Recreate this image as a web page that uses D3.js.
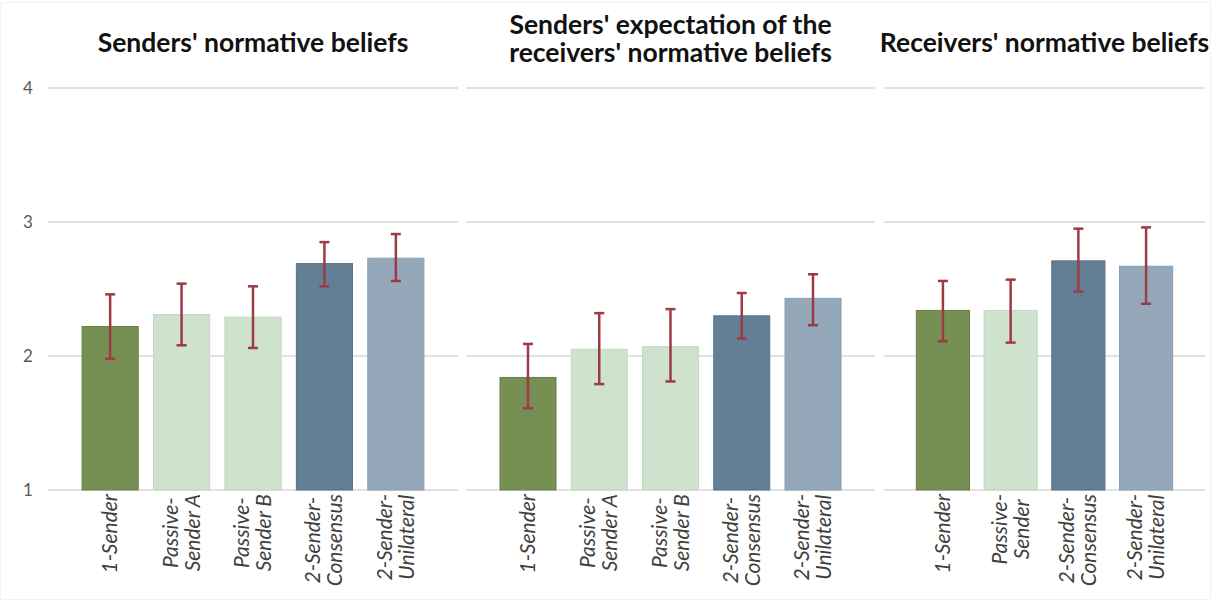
<!DOCTYPE html>
<html>
<head>
<meta charset="utf-8">
<script src="https://cdn.jsdelivr.net/npm/d3@7"></script>
<style>
  html, body { margin: 0; padding: 0; background: #fff; }
  svg { display: block; }
</style>
</head>
<body>
<svg id="chart" width="1222" height="601"></svg>
<script>
// Panel titles (one array entry per line)
const panelTitles = [
  ["Senders' normative beliefs"],
  ["Senders' expectation of the", "receivers' normative beliefs"],
  ["Receivers' normative beliefs"]
];

// Treatment categories per panel (label lines split at the hyphen)
const senderCategories = ["1-Sender", "Passive-Sender A", "Passive-Sender B", "2-Sender-Consensus", "2-Sender-Unilateral"];
const receiverCategories = ["1-Sender", "Passive-Sender", "2-Sender-Consensus", "2-Sender-Unilateral"];

// Means
const sendersBeliefs      = [2.22, 2.31, 2.29, 2.69, 2.73];
const sendersExpectation  = [1.84, 2.05, 2.07, 2.30, 2.43];
const receiversBeliefs    = [2.34, 2.34, 2.71, 2.67];

// Error bar bounds
const sendersBeliefsLow      = [1.98, 2.08, 2.06, 2.52, 2.56];
const sendersBeliefsHigh     = [2.46, 2.54, 2.52, 2.85, 2.91];
const sendersExpectationLow  = [1.61, 1.79, 1.81, 2.13, 2.23];
const sendersExpectationHigh = [2.09, 2.32, 2.35, 2.47, 2.61];
const receiversBeliefsLow    = [2.11, 2.10, 2.48, 2.39];
const receiversBeliefsHigh   = [2.56, 2.57, 2.95, 2.96];

// Y axis ticks
const yTicks = [1, 2, 3, 4];

// Colour per category type
const categoryColors = {
  "1-Sender":            { fill: "#768f52", stroke: "#687f47" },
  "Passive-Sender A":    { fill: "#cee2cd", stroke: "#c3d8c2" },
  "Passive-Sender B":    { fill: "#cee2cd", stroke: "#c3d8c2" },
  "Passive-Sender":      { fill: "#cee2cd", stroke: "#c3d8c2" },
  "2-Sender-Consensus":  { fill: "#637f94", stroke: "#57728a" },
  "2-Sender-Unilateral": { fill: "#95a8b9", stroke: "#8a9eb0" }
};

const panels = [
  { title: panelTitles[0], cats: senderCategories,   mean: sendersBeliefs,     lo: sendersBeliefsLow,     hi: sendersBeliefsHigh,     x0: 48,  x1: 458 },
  { title: panelTitles[1], cats: senderCategories,   mean: sendersExpectation, lo: sendersExpectationLow, hi: sendersExpectationHigh, x0: 466, x1: 875 },
  { title: panelTitles[2], cats: receiverCategories, mean: receiversBeliefs,   lo: receiversBeliefsLow,   hi: receiversBeliefsHigh,   x0: 884, x1: 1205 }
];

const svg = d3.select("#chart");
const font = "Lato, 'Open Sans', sans-serif";

// faint outer frame
svg.append("rect")
  .attr("x", 0.5).attr("y", 2.5).attr("width", 1210).attr("height", 597)
  .attr("fill", "#fff").attr("stroke", "#f2f2f2");

const y = d3.scaleLinear().domain([1, 4]).range([490, 88]);

// Y tick labels (shared on the left)
svg.append("g").selectAll("text")
  .data(yTicks).join("text")
  .attr("x", 28).attr("y", d => y(d))
  .attr("dy", "0.35em")
  .attr("text-anchor", "middle")
  .attr("font-family", font).attr("font-size", 17)
  .attr("fill", "#595959")
  .text(d => d);

// split a category into label lines after its first hyphen-word
function labelLines(c) {
  if (c === "1-Sender") return [c];
  const i = c.indexOf("-", c.startsWith("2-") ? 2 : 0);
  return [c.slice(0, i + 1), c.slice(i + 1)];
}

panels.forEach(p => {
  const g = svg.append("g");
  const x = d3.scaleBand().domain(p.cats).range([p.x0, p.x1])
    .paddingInner(0.2).paddingOuter(0.47);

  // gridlines
  g.append("g").selectAll("line")
    .data(yTicks).join("line")
    .attr("x1", p.x0).attr("x2", p.x1)
    .attr("y1", d => y(d)).attr("y2", d => y(d))
    .attr("stroke", "#d9d9d9").attr("stroke-width", 1.5);

  // title
  const nLines = p.title.length;
  const t = g.append("text")
    .attr("x", (p.x0 + p.x1) / 2)
    .attr("y", nLines === 1 ? 52 : 34)
    .attr("text-anchor", "middle")
    .attr("font-family", font).attr("font-weight", "bold")
    .attr("font-size", 26.5).attr("fill", "#111");
  p.title.forEach((line, i) => {
    t.append("tspan").attr("x", (p.x0 + p.x1) / 2).attr("dy", i === 0 ? 0 : 28).text(line);
  });

  const rows = p.cats.map((c, i) => ({ c, v: p.mean[i], lo: p.lo[i], hi: p.hi[i] }));

  // bars
  g.append("g").selectAll("rect")
    .data(rows).join("rect")
    .attr("x", d => x(d.c) + 0.5)
    .attr("y", d => y(d.v))
    .attr("width", x.bandwidth() - 1)
    .attr("height", d => y(1) - y(d.v))
    .attr("fill", d => categoryColors[d.c].fill)
    .attr("stroke", d => categoryColors[d.c].stroke)
    .attr("stroke-width", 1);

  // error bars
  const eb = g.append("g").attr("stroke", "#9c3a46").attr("stroke-width", 2.5).attr("fill", "none");
  rows.forEach(d => {
    const cx = x(d.c) + x.bandwidth() / 2;
    eb.append("line").attr("x1", cx).attr("x2", cx).attr("y1", y(d.lo)).attr("y2", y(d.hi));
    eb.append("line").attr("x1", cx - 5).attr("x2", cx + 5).attr("y1", y(d.lo)).attr("y2", y(d.lo));
    eb.append("line").attr("x1", cx - 5).attr("x2", cx + 5).attr("y1", y(d.hi)).attr("y2", y(d.hi));
  });

  // rotated category labels
  rows.forEach(d => {
    const cx = x(d.c) + x.bandwidth() / 2;
    const lines = labelLines(d.c);
    const lg = g.append("g");
    const texts = lines.map((line, i) => lg.append("text")
      .attr("text-anchor", "middle")
      .attr("font-family", font).attr("font-style", "italic")
      .attr("font-size", 21).attr("fill", "#404040")
      .attr("x", 0)
      .attr("y", (i - (lines.length - 1) / 2) * 22 + 7)
      .text(line));
    const maxW = d3.max(texts, s => s.node().getComputedTextLength());
    lg.attr("transform", `translate(${cx},${494 + maxW / 2}) rotate(-90)`);
  });
});
</script>
</body>
</html>
